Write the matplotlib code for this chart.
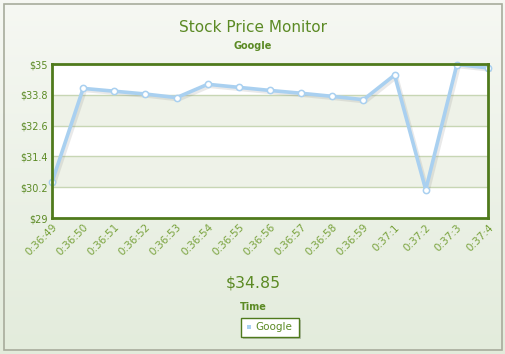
import matplotlib.pyplot as plt
import matplotlib.patheffects as pe
import numpy as np

times = ["0:36:49", "0:36:50", "0:36:51", "0:36:52", "0:36:53", "0:36:54",
         "0:36:55", "0:36:56", "0:36:57", "0:36:58", "0:36:59", "0:37:1",
         "0:37:2", "0:37:3", "0:37:4"]
prices = [30.40, 34.05, 33.94, 33.83, 33.69, 34.21, 34.09, 33.97, 33.86,
          33.74, 33.61, 34.57, 30.10, 34.98, 34.85]
yticks = [29, 30.2, 31.4, 32.6, 33.8, 35]

green = "#5b8a24"
tick_green = "#7aa33e"
line_blue = "#a9d0f0"

fig = plt.figure(figsize=(5.06, 3.54), dpi=100)

# background gradient + outer border
bg = fig.add_axes([0, 0, 1, 1], zorder=-10)
grad = np.linspace(0, 1, 256).reshape(-1, 1)
top = np.array([0.965, 0.972, 0.953])
bot = np.array([0.890, 0.925, 0.862])
img = top + (bot - top) * grad[..., None]
bg.imshow(img, aspect="auto", extent=[0, 1, 0, 1])
bg.add_patch(plt.Rectangle((4 / 506, 4 / 354), 498 / 506, 346 / 354,
                           fill=False, ec="#a8ac9c", lw=1.2))
bg.set_xlim(0, 1)
bg.set_ylim(0, 1)
bg.axis("off")

ax = fig.add_axes([52 / 506, 1 - 218 / 354, 436 / 506, 154 / 354])
x = np.arange(len(times))
ax.set_xlim(0, len(times) - 1)
ax.set_ylim(29, 35)

# alternating bands
for i in range(len(yticks) - 1):
    c = "white" if i % 2 == 0 else "#eef2e8"
    ax.axhspan(yticks[i], yticks[i + 1], color=c, zorder=0, lw=0)
for yv in yticks[1:-1]:
    ax.axhline(yv, color="#c7d6b4", lw=1, zorder=1)

ax.plot(x, prices, color=line_blue, lw=2.6, zorder=3, clip_on=False,
        solid_joinstyle="round",
        path_effects=[pe.SimpleLineShadow(offset=(1.5, -1.5), shadow_color="#888888", alpha=0.18),
                      pe.Normal()])
ax.plot(x, prices, "o", ms=4.5, mfc="white", mec=line_blue, mew=1.1, zorder=4,
        clip_on=False)

for s in ax.spines.values():
    s.set_color("#4f7a1c")
    s.set_linewidth(2)
    s.set_zorder(5)

ax.set_yticks(yticks)
ax.set_yticklabels(["$29", "$30.2", "$31.4", "$32.6", "$33.8", "$35"])
ax.set_xticks(x)
ax.set_xticklabels(times, rotation=45, ha="right", va="top", rotation_mode="anchor")
ax.tick_params(axis="both", length=0, labelsize=7.5, labelcolor=tick_green, pad=3)
ax.tick_params(axis="y", labelsize=7, labelcolor=green)

fig.text(0.5, 1 - 27 / 354, "Stock Price Monitor", ha="center", va="center",
         fontsize=11, color=green)
fig.text(0.5, 1 - 46 / 354, "Google", ha="center", va="center",
         fontsize=7, color=green, fontweight="bold")
fig.text(0.5, 1 - 283 / 354, "$34.85", ha="center", va="center",
         fontsize=11.3, color=green)
fig.text(0.5, 1 - 307 / 354, "Time", ha="center", va="center",
         fontsize=7, color=green, fontweight="bold")

# legend
lx0, ly0, lw_, lh = 241 / 506, 1 - 337 / 354, 58 / 506, 19 / 354
bg.add_patch(plt.Rectangle((lx0 + 2 / 506, ly0 - 2 / 354), lw_, lh,
                           fc="#9aa38e", ec="none", alpha=0.6))
bg.add_patch(plt.Rectangle((lx0, ly0), lw_, lh, fc="white", ec="#4f7a1c", lw=1))
bg.add_patch(plt.Rectangle((lx0 + 6 / 506, ly0 + 8 / 354), 4 / 506, 4 / 354,
                           fc=line_blue, ec="none"))
bg.text(lx0 + 14 / 506, ly0 + lh / 2, "Google", ha="left", va="center",
        fontsize=7.5, color=green)

fig.savefig("out.png", dpi=100)
